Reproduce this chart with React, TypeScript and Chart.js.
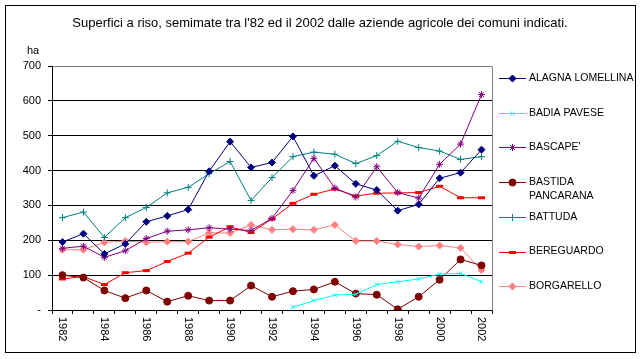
import React, { useEffect, useRef } from "react";
import { Chart, registerables } from "chart.js";
import { drawPoint } from "chart.js/helpers";

Chart.register(...registerables);

const years = [
  "1982", "1983", "1984", "1985", "1986", "1987", "1988", "1989", "1990", "1991", "1992",
  "1993", "1994", "1995", "1996", "1997", "1998", "1999", "2000", "2001", "2002",
];

const alagnaLomellina = [195, 219, 161, 190, 253, 270, 288, 398, 483, 409, 423, 498, 385, 414, 362, 344, 285, 303, 378, 394, 460];
const badiaPavese = [null, null, null, null, null, null, null, null, null, null, null, 8, 27, 43, 45, 73, 81, 89, 103, 105, 81];
const bascape = [177, 183, 151, 170, 205, 226, 230, 236, 232, 228, 263, 343, 435, 350, 324, 411, 337, 321, 418, 476, 618];
const bastidaPancarana = [100, 93, 56, 34, 56, 24, 41, 27, 27, 70, 38, 54, 59, 81, 47, 44, 2, 38, 87, 145, 128];
const battuda = [265, 281, 208, 265, 294, 336, 352, 391, 426, 314, 380, 440, 453, 447, 420, 443, 484, 466, 456, 432, 440];
const bereguardo = [89, 96, 73, 107, 113, 139, 163, 209, 239, 222, 261, 306, 332, 347, 327, 335, 336, 337, 355, 322, 322];
const borgarello = [173, 173, 194, 198, 194, 196, 196, 221, 221, 244, 230, 232, 230, 244, 198, 198, 188, 182, 185, 178, 115];

const seriesNames = [
  ["ALAGNA LOMELLINA"],
  ["BADIA PAVESE"],
  ["BASCAPE'"],
  ["BASTIDA", "PANCARANA"],
  ["BATTUDA"],
  ["BEREGUARDO"],
  ["BORGARELLO"],
];

const titleText = "Superfici a riso, semimate tra l'82 ed il 2002 dalle aziende agricole dei comuni indicati.";
const yUnit = "ha";

const FONT = "'Liberation Sans', Arial, sans-serif";

export default function App() {
  const ref = useRef<HTMLCanvasElement | null>(null);

  useEffect(() => {
    const canvas = ref.current;
    if (!canvas) return;

    const mk = (label: string, data: any[], color: string, style: any, radius: number, pbw = 1) => ({
      label,
      data,
      borderColor: color,
      backgroundColor: color,
      pointBackgroundColor: color,
      pointBorderColor: color,
      pointStyle: style,
      pointRadius: radius,
      pointBorderWidth: pbw,
      borderWidth: 1,
      tension: 0,
      spanGaps: false,
    });

    const datasets = [
      mk(seriesNames[0].join(" "), alagnaLomellina, "#000080", "rectRot", 3.5),
      mk(seriesNames[1].join(" "), badiaPavese, "#00FFFF", "crossRot", 3),
      mk(seriesNames[2].join(" "), bascape, "#800080", "star", 3.5),
      mk(seriesNames[3].join(" "), bastidaPancarana, "#800000", "circle", 3.5),
      mk(seriesNames[4].join(" "), battuda, "#008080", "cross", 3.5),
      mk(seriesNames[5].join(" "), bereguardo, "#FF0000", "line", 3.5, 3),
      mk(seriesNames[6].join(" "), borgarello, "#FF8080", "rectRot", 3.5),
    ];

    const decor = {
      id: "decor",
      beforeDraw(chart: any) {
        const ctx = chart.ctx;
        ctx.save();
        ctx.fillStyle = "#fff";
        ctx.fillRect(0, 0, chart.width, chart.height);
        ctx.restore();
      },
      beforeDatasetsDraw(chart: any) {
        const ctx = chart.ctx;
        const a = chart.chartArea;
        ctx.save();
        ctx.strokeStyle = "#808080";
        ctx.lineWidth = 1;
        ctx.beginPath();
        ctx.moveTo(Math.round(a.right) + 0.5, Math.round(a.top) + 0.5);
        ctx.lineTo(Math.round(a.right) + 0.5, Math.round(a.bottom) + 0.5);
        ctx.stroke();
        ctx.restore();
      },
      afterDraw(chart: any) {
        const ctx = chart.ctx;
        const xs = chart.scales.x;
        ctx.save();
        // outer border
        ctx.strokeStyle = "#000";
        ctx.lineWidth = 1;
        ctx.strokeRect(5.5, 5.5, 630, 347);
        // title
        ctx.fillStyle = "#000";
        ctx.font = `13px ${FONT}`;
        ctx.textAlign = "center";
        ctx.textBaseline = "middle";
        ctx.fillText(titleText, 320, 23);
        // unit
        ctx.font = `11px ${FONT}`;
        ctx.textAlign = "left";
        ctx.fillText(yUnit, 27, 51);
        // x labels rotated clockwise
        years.forEach((y, i) => {
          if (i % 2 !== 0) return;
          const x = xs.getPixelForValue(i);
          ctx.save();
          ctx.translate(x, xs.top + 7);
          ctx.rotate(Math.PI / 2);
          ctx.textAlign = "left";
          ctx.textBaseline = "middle";
          ctx.fillText(y, 0, 0);
          ctx.restore();
        });
        // legend
        chart.data.datasets.forEach((ds: any, i: number) => {
          const yc = 78 + 34.7 * i;
          const yl = Math.round(yc) + 0.5;
          ctx.strokeStyle = ds.borderColor;
          ctx.lineWidth = 1;
          ctx.beginPath();
          ctx.moveTo(499, yl);
          ctx.lineTo(526, yl);
          ctx.stroke();
          ctx.save();
          ctx.fillStyle = ds.pointBackgroundColor;
          ctx.strokeStyle = ds.pointBorderColor;
          ctx.lineWidth = ds.pointBorderWidth;
          drawPoint(ctx, {
            pointStyle: ds.pointStyle,
            radius: ds.pointRadius,
            rotation: 0,
            borderWidth: ds.pointBorderWidth,
          } as any, 512.5, yl);
          ctx.restore();
          ctx.fillStyle = "#000";
          ctx.font = `10.5px ${FONT}`;
          ctx.textAlign = "left";
          ctx.textBaseline = "middle";
          seriesNames[i].forEach((line, k) => {
            ctx.fillText(line, 529, yc + k * 13.7);
          });
        });
        ctx.restore();
      },
    };

    const chart = new Chart(canvas, {
      type: "line",
      data: { labels: years, datasets: datasets as any },
      plugins: [decor],
      options: {
        responsive: false,
        animation: false,
        devicePixelRatio: 1,
        layout: { padding: { top: 66, right: 150, left: 0, bottom: 0 } },
        plugins: {
          legend: { display: false },
          title: { display: false },
          tooltip: { enabled: false },
        },
        scales: {
          x: {
            type: "category",
            offset: true,
            grid: {
              offset: true,
              drawOnChartArea: false,
              drawTicks: true,
              tickLength: 4,
              tickColor: "#000",
              color: "#000",
            },
            border: { color: "#000", width: 1 },
            ticks: { display: false },
            afterFit(scale: any) {
              scale.height = 49;
            },
          },
          y: {
            min: 0,
            max: 700,
            ticks: {
              stepSize: 100,
              color: "#000",
              font: { family: FONT, size: 11 },
              padding: 7,
              callback: (v: any) => (v === 0 ? "-" : String(v)),
            },
            grid: {
              color: (c: any) => (c.tick && c.tick.value === 700 ? "#808080" : "#000"),
              tickColor: "#000",
              tickLength: 4,
              lineWidth: 1,
            },
            border: { color: "#000", width: 1 },
            afterFit(scale: any) {
              scale.width = 52;
            },
          },
        },
      },
    });

    return () => chart.destroy();
  }, []);

  return (
    <div style={{ position: "fixed", left: 0, top: 0, width: 642, height: 359, background: "#fff" }}>
      <canvas ref={ref} width={642} height={359} style={{ display: "block", width: 642, height: 359 }} />
    </div>
  );
}
